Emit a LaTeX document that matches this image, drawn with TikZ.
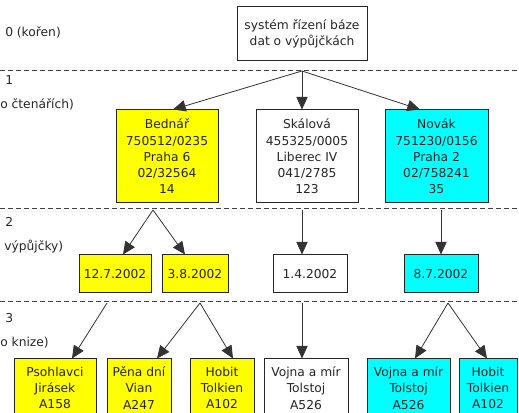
\documentclass[tikz,border=0pt]{standalone}
\usepackage{fontspec}
\setmainfont{DejaVu Sans}
\usetikzlibrary{arrows.meta,calc}
\definecolor{readeryellow}{RGB}{255,255,0}
\definecolor{readercyan}{RGB}{0,255,255}
\begin{document}
\begin{tikzpicture}[x=0.75pt,y=-0.75pt,
  every node/.style={font=\fontsize{9.2}{12.2}\selectfont, text=black!85},
  box/.style={draw=black!85, line width=0.75pt, align=center, inner sep=0pt},
  sz/.style 2 args={minimum width=#1*0.75pt, minimum height=#2*0.75pt},
  yel/.style={box, fill=readeryellow},
  cya/.style={box, fill=readercyan},
  wht/.style={box, fill=white},
  lvl/.style={dash pattern=on 3.75pt off 2.25pt, line width=0.75pt, draw=black!75},
  link/.style={draw=black!80, line width=0.6pt, -{Triangle[length=9.5pt,width=8.5pt]}},
  lbl/.style={anchor=west, inner sep=0pt}]
\useasboundingbox (0,0) rectangle (519,413);
\clip (0,0) rectangle (519,413);
\fill[white] (0,0) rectangle (519,413);

% level separators
\draw[lvl] (0,71) -- (519,71);
\draw[lvl] (0,209) -- (519,209);
\draw[lvl] (0,302) -- (519,302);

% level captions
\node[lbl] (l0) at (5,32) {0 (kořen)};
\node[lbl] (l1) at (5,80) {1};
\node[lbl] (l1t) at (0,104) {o čtenářích)};
\node[lbl] (l2) at (5,222) {2};
\node[lbl] (l2t) at (4,247) {výpůjčky)};
\node[lbl] (l3) at (5,318) {3};
\node[lbl] (l3t) at (0,343) {o knize)};

% root
\node[wht, sz={130}{54}] (root) at (302,34) {systém řízení báze\\dat o výpůjčkách};

% readers
\node[yel, sz={102}{93}] (bednar) at (167,156.5) {Bednář\\750512/0235\\Praha 6\\02/32564\\14};
\node[wht, sz={102}{93}] (skalova) at (307,156.5) {Skálová\\455325/0005\\Liberec IV\\041/2785\\123};
\node[cya, sz={103}{93}] (novak) at (436.5,156.5) {Novák\\751230/0156\\Praha 2\\02/758241\\35};

% loans
\node[yel, sz={72}{38}] (d1) at (115,274) {12.7.2002};
\node[yel, sz={66}{38}] (d2) at (195,274) {3.8.2002};
\node[wht, sz={74}{38}] (d3) at (310,274) {1.4.2002};
\node[cya, sz={74}{38}] (d4) at (441,274) {8.7.2002};

% books
\node[yel, sz={82}{58}] (b1) at (55,388) {Psohlavci\\Jirásek\\A158};
\node[yel, sz={64}{58}] (b2) at (139,388) {Pěna dní\\Vian\\A247};
\node[yel, sz={64}{58}] (b3) at (222,388) {Hobit\\Tolkien\\A102};
\node[wht, sz={84}{58}] (b4) at (306,388) {Vojna a mír\\Tolstoj\\A526};
\node[cya, sz={83}{58}] (b5) at (408.5,388) {Vojna a mír\\Tolstoj\\A526};
\node[cya, sz={58}{58}] (b6) at (488,388) {Hobit\\Tolkien\\A102};

% branching points on the separators
\coordinate (s0) at (302,71);
\coordinate (s1) at (153,210);
\coordinate (s2) at (302,210);
\coordinate (s3) at (441,210);
\coordinate (t1) at (107,303);
\coordinate (t2) at (200,303);
\coordinate (t3) at (302,303);
\coordinate (t4) at (448,303);

% connectors
\draw[link] (s0) -- ($(bednar.north)+(6,0)$);
\draw[link] (s0) -- ($(skalova.north)+(-5,0)$);
\draw[link] (s0) -- ($(novak.north)+(-16.5,0)$);

\draw[link] (s1) -- ($(d1.north)+(8,0)$);
\draw[link] (s1) -- ($(d2.north)+(-10,0)$);
\draw[link] (s2) -- ($(d3.north)+(-8,0)$);
\draw[link] (s3) -- (d4.north);

\draw[link] (t1) -- ($(b1.north)+(17,0)$);
\draw[link] (t2) -- ($(b2.north)+(18,0)$);
\draw[link] (t2) -- ($(b3.north)+(11,0)$);
\draw[link] (t3) -- ($(b4.north)+(-4,0)$);
\draw[link] (t4) -- ($(b5.north)+(6.5,0)$);
\draw[link] (t4) -- ($(b6.north)+(-1,0)$);
\end{tikzpicture}
\end{document}
